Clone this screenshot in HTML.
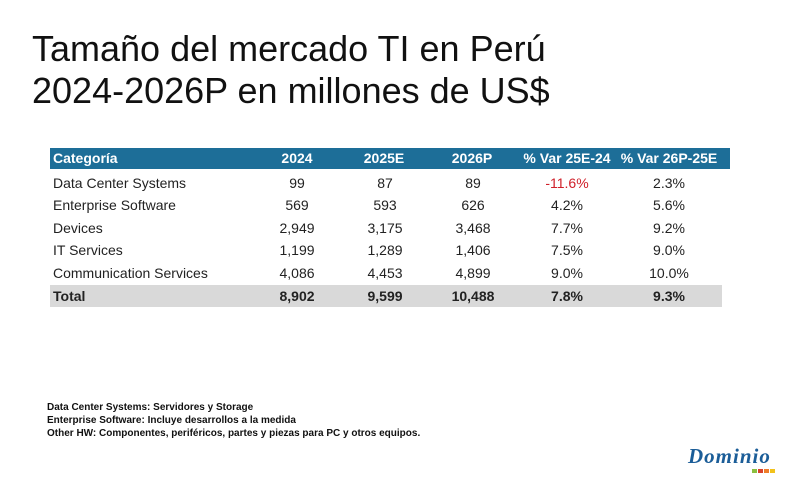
<!DOCTYPE html>
<html><head><meta charset="utf-8"><style>
body{margin:0;width:800px;height:487px;background:#fff;position:relative;overflow:hidden;font-family:"Liberation Sans",sans-serif;}
.t{position:absolute;left:32px;font-size:36px;color:#111;line-height:40px;}
.hdr{position:absolute;left:50px;top:148px;width:680px;height:21px;background:#1d6e98;}
.tot{position:absolute;left:50px;top:285px;width:672px;height:22px;background:#d9d9d9;}
.c{position:absolute;font-size:14px;color:#222;white-space:nowrap;transform:translateX(-50%);}
.l{position:absolute;font-size:14px;color:#222;left:53px;white-space:nowrap;}
.h{color:#fff;font-weight:bold;}
.b{font-weight:bold;}
.fn{position:absolute;left:47px;font-size:10px;font-weight:bold;color:#111;}
</style></head><body>
<div class="t" style="top:29px">Tamaño del mercado TI en Perú</div>
<div class="t" style="top:71px">2024-2026P en millones de US$</div>
<div class="hdr"></div>
<div class="tot"></div>
<div class="l h" style="top:150px">Categoría</div>
<div class="c h" style="top:150px;left:297px">2024</div>
<div class="c h" style="top:150px;left:384px">2025E</div>
<div class="c h" style="top:150px;left:472px">2026P</div>
<div class="c h" style="top:150px;left:567px">% Var 25E-24</div>
<div class="c h" style="top:150px;left:669px">% Var 26P-25E</div>

<div class="l" style="top:175px">Data Center Systems</div>
<div class="c" style="top:175px;left:297px">99</div>
<div class="c" style="top:175px;left:385px">87</div>
<div class="c" style="top:175px;left:473px">89</div>
<div class="c" style="top:175px;left:567px;color:#d0202a">-11.6%</div>
<div class="c" style="top:175px;left:669px">2.3%</div>

<div class="l" style="top:197px">Enterprise Software</div>
<div class="c" style="top:197px;left:297px">569</div>
<div class="c" style="top:197px;left:385px">593</div>
<div class="c" style="top:197px;left:473px">626</div>
<div class="c" style="top:197px;left:567px">4.2%</div>
<div class="c" style="top:197px;left:669px">5.6%</div>

<div class="l" style="top:220px">Devices</div>
<div class="c" style="top:220px;left:297px">2,949</div>
<div class="c" style="top:220px;left:385px">3,175</div>
<div class="c" style="top:220px;left:473px">3,468</div>
<div class="c" style="top:220px;left:567px">7.7%</div>
<div class="c" style="top:220px;left:669px">9.2%</div>

<div class="l" style="top:242px">IT Services</div>
<div class="c" style="top:242px;left:297px">1,199</div>
<div class="c" style="top:242px;left:385px">1,289</div>
<div class="c" style="top:242px;left:473px">1,406</div>
<div class="c" style="top:242px;left:567px">7.5%</div>
<div class="c" style="top:242px;left:669px">9.0%</div>

<div class="l" style="top:265px">Communication Services</div>
<div class="c" style="top:265px;left:297px">4,086</div>
<div class="c" style="top:265px;left:385px">4,453</div>
<div class="c" style="top:265px;left:473px">4,899</div>
<div class="c" style="top:265px;left:567px">9.0%</div>
<div class="c" style="top:265px;left:669px">10.0%</div>

<div class="l b" style="top:288px">Total</div>
<div class="c b" style="top:288px;left:297px">8,902</div>
<div class="c b" style="top:288px;left:385px">9,599</div>
<div class="c b" style="top:288px;left:473px">10,488</div>
<div class="c b" style="top:288px;left:567px">7.8%</div>
<div class="c b" style="top:288px;left:669px">9.3%</div>

<div class="fn" style="top:402px">Data Center Systems: Servidores y Storage</div>
<div class="fn" style="top:415px">Enterprise Software: Incluye desarrollos a la medida</div>
<div class="fn" style="top:428px">Other HW: Componentes, periféricos, partes y piezas para PC y otros equipos.</div>

<div style="position:absolute;left:688px;top:444px;font-family:'Liberation Serif',serif;font-style:italic;font-weight:bold;font-size:21px;color:#1b5d98;letter-spacing:1px">Dominio</div>
<div style="position:absolute;left:752px;top:469px;width:5px;height:4px;background:#8bbf3f"></div>
<div style="position:absolute;left:758px;top:469px;width:5px;height:4px;background:#d9412b"></div>
<div style="position:absolute;left:764px;top:469px;width:5px;height:4px;background:#ef7d2a"></div>
<div style="position:absolute;left:770px;top:469px;width:5px;height:4px;background:#f2c21b"></div>
</body></html>
